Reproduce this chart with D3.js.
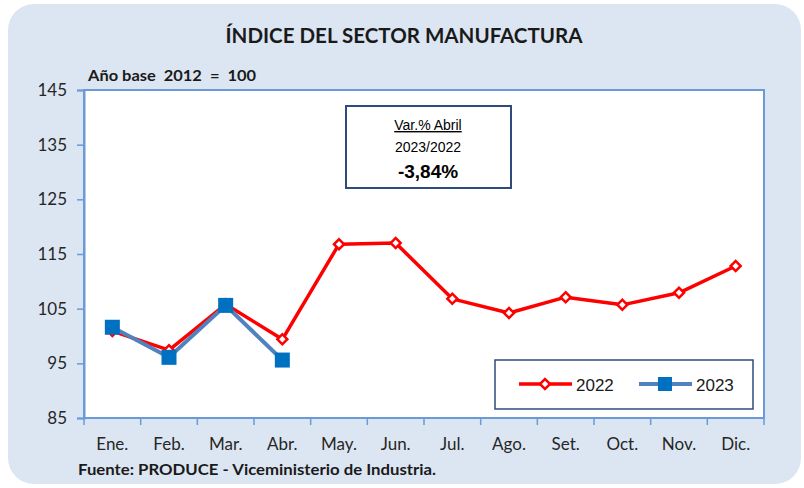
<!DOCTYPE html>
<html>
<head>
<meta charset="utf-8">
<script src="https://cdn.jsdelivr.net/npm/d3@7"></script>
<style>
  body { margin: 0; background: #ffffff; }
  svg { display: block; }
</style>
</head>
<body>
<svg id="chart" width="804" height="488"></svg>
<script>
// data
const months = ["Ene.","Feb.","Mar.","Abr.","May.","Jun.","Jul.","Ago.","Set.","Oct.","Nov.","Dic."];
const values2022 = [100.9, 97.4, 105.8, 99.4, 116.8, 117.0, 106.8, 104.2, 107.1, 105.7, 107.9, 112.8];
const values2023 = [101.6, 96.1, 105.6, 95.6];
const yTicks = [85, 95, 105, 115, 125, 135, 145];

const calibri = "Lato, 'Open Sans', sans-serif";
const arial = "'Liberation Sans', Arial, sans-serif";

const svg = d3.select("#chart");
const margin = {left:84, top:90, right:40, bottom:70};
const W = 804, H = 488;

//background panel
svg.append("rect")
  .attr("x",8).attr("y",4)
  .attr("width",793).attr("height",480)
  .attr("rx",26).attr("ry",26)
  .attr("fill","#dce6f2");

const x = d3.scaleBand()
  .domain(months)
  .range([margin.left, W - margin.right]);
const y = d3.scaleLinear()
  .domain([85,145])
  .range([H - margin.bottom, margin.top]);

//plot area
svg.append("rect")
  .attr("x",x.range()[0]).attr("y",y(145))
  .attr("width",x.range()[1]-x.range()[0])
  .attr("height",y(85)-y(145))
  .attr("fill","#ffffff")
  .attr("stroke","#6a9ad8")
  .attr("stroke-width",2);

//y axis
const yAxis = d3.axisLeft(y).tickValues(yTicks).tickSize(7).tickPadding(10);
const gy = svg.append("g")
  .attr("transform","translate("+margin.left+",0)")
  .call(yAxis);
gy.select(".domain").attr("stroke","#6a9ad8").attr("stroke-width",2);
gy.selectAll(".tick line").attr("stroke","#6a9ad8").attr("stroke-width",1.5);
gy.selectAll(".tick text")
  .attr("font-family",calibri).attr("font-size",17).attr("fill","#262626");

//x axis, ticks at category boundaries
const gx = svg.append("g")
  .attr("transform","translate(0,"+y(85)+")");
gx.append("line")
  .attr("x1",x.range()[0]).attr("x2",x.range()[1])
  .attr("stroke","#6a9ad8").attr("stroke-width",2);
gx.selectAll("line.tk")
  .data(months.concat(["end"]))
  .enter().append("line")
  .attr("class","tk")
  .attr("x1",(d,i)=> x.range()[0] + i*x.bandwidth())
  .attr("x2",(d,i)=> x.range()[0] + i*x.bandwidth())
  .attr("y1",0).attr("y2",7)
  .attr("stroke","#6a9ad8").attr("stroke-width",1.5);
gx.selectAll("text")
  .data(months)
  .enter().append("text")
  .attr("x",d=> x(d)+x.bandwidth()/2)
  .attr("y",32)
  .attr("text-anchor","middle")
  .attr("font-family",calibri).attr("font-size",17).attr("fill","#262626")
  .text(d=>d);

//lines
const line = d3.line()
  .x((d,i)=> x(months[i])+x.bandwidth()/2)
  .y(d=> y(d));

svg.append("path")
  .datum(values2022)
  .attr("d",line)
  .attr("fill","none")
  .attr("stroke","#ff0000")
  .attr("stroke-width",3.5)
  .attr("stroke-linejoin","round");

const diamond = d3.symbol().type(d3.symbolSquare).size(50);
svg.selectAll("path.d2022")
  .data(values2022)
  .enter().append("path")
  .attr("class","d2022")
  .attr("d",diamond)
  .attr("transform",(d,i)=>"translate("+(x(months[i])+x.bandwidth()/2)+","+y(d)+") rotate(45)")
  .attr("fill","#ffffff")
  .attr("stroke","#ff0000")
  .attr("stroke-width",2.5);

svg.append("path")
  .datum(values2023)
  .attr("d",line)
  .attr("fill","none")
  .attr("stroke","#5182c0")
  .attr("stroke-width",4)
  .attr("stroke-linejoin","round");

svg.selectAll("rect.s2023")
  .data(values2023)
  .enter().append("rect")
  .attr("class","s2023")
  .attr("x",(d,i)=> x(months[i])+x.bandwidth()/2-7.5)
  .attr("y",d=> y(d)-7.5)
  .attr("width",15).attr("height",15)
  .attr("fill","#0070c0");

//title and notes
svg.append("text")
  .attr("x",404).attr("y",43)
  .attr("text-anchor","middle")
  .attr("font-family",calibri).attr("font-weight","bold").attr("font-size",20)
  .attr("fill","#1a1a1a")
  .attr("textLength",357).attr("lengthAdjust","spacingAndGlyphs")
  .text("ÍNDICE DEL SECTOR MANUFACTURA");

svg.append("text")
  .attr("x",88).attr("y",81)
  .attr("font-family",calibri).attr("font-weight","bold").attr("font-size",16)
  .attr("fill","#1a1a1a")
  .attr("xml:space","preserve")
  .attr("textLength",168).attr("lengthAdjust","spacingAndGlyphs")
  .text("Año base  2012  =  100");

svg.append("text")
  .attr("x",78).attr("y",475)
  .attr("font-family",calibri).attr("font-weight","bold").attr("font-size",16)
  .attr("fill","#1a1a1a")
  .attr("textLength",358).attr("lengthAdjust","spacingAndGlyphs")
  .text("Fuente: PRODUCE - Viceministerio de Industria.");

//variation box
const box = svg.append("g");
box.append("rect")
  .attr("x",346).attr("y",106)
  .attr("width",165).attr("height",82)
  .attr("fill","#ffffff")
  .attr("stroke","#2f4b7c").attr("stroke-width",2);
box.append("text")
  .attr("x",428).attr("y",130)
  .attr("text-anchor","middle")
  .attr("font-family",arial).attr("font-size",14)
  .attr("text-decoration","underline")
  .text("Var.% Abril");
box.append("text")
  .attr("x",428).attr("y",152)
  .attr("text-anchor","middle")
  .attr("font-family",arial).attr("font-size",14)
  .text("2023/2022");
box.append("text")
  .attr("x",428).attr("y",178)
  .attr("text-anchor","middle")
  .attr("font-family",arial).attr("font-weight","bold").attr("font-size",19)
  .text("-3,84%");

//legend
const lg = svg.append("g");
lg.append("rect")
  .attr("x",495).attr("y",360)
  .attr("width",258).attr("height",49)
  .attr("fill","#ffffff")
  .attr("stroke","#2f4b7c").attr("stroke-width",1.5);
lg.append("line")
  .attr("x1",519).attr("x2",572).attr("y1",384).attr("y2",384)
  .attr("stroke","#ff0000").attr("stroke-width",3.5);
lg.append("path")
  .attr("d",diamond)
  .attr("transform","translate(545,384) rotate(45)")
  .attr("fill","#ffffff").attr("stroke","#ff0000").attr("stroke-width",2.5);
lg.append("text")
  .attr("x",576).attr("y",391)
  .attr("font-family",arial).attr("font-size",17).attr("fill","#1a1a1a")
  .text("2022");
lg.append("line")
  .attr("x1",639).attr("x2",692).attr("y1",384).attr("y2",384)
  .attr("stroke","#5182c0").attr("stroke-width",4);
lg.append("rect")
  .attr("x",658).attr("y",377).attr("width",14).attr("height",14)
  .attr("fill","#0070c0");
lg.append("text")
  .attr("x",696).attr("y",391)
  .attr("font-family",arial).attr("font-size",17).attr("fill","#1a1a1a")
  .text("2023");
</script>
</body>
</html>
